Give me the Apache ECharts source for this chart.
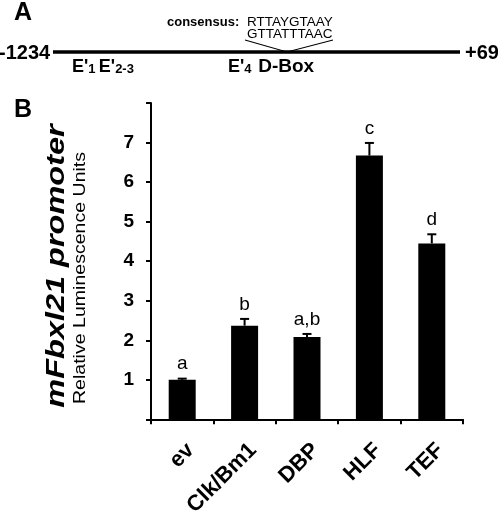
<!DOCTYPE html>
<html>
<head>
<meta charset="utf-8">
<script src="https://cdn.jsdelivr.net/npm/echarts@6/dist/echarts.min.js"></script>
<style>
  html, body { margin: 0; padding: 0; background: #fff; }
  #main { width: 498px; height: 519px; }
</style>
</head>
<body>
<div id="main"></div>
<script>
// 数据
var categories = ['ev', 'Clk/Bm1', 'DBP', 'HLF', 'TEF'];
var values = [1.0, 2.37, 2.08, 6.67, 4.45];
var errors = [0.03, 0.17, 0.08, 0.32, 0.23];
var letters = ['a', 'b', 'a,b', 'c', 'd'];
var yTicks = [1, 2, 3, 4, 5, 6, 7];

var chart = echarts.init(document.getElementById('main'));

// 误差线数据
var errData = [];
for (var i = 0; i < values.length; i++) {
    errData.push([i, values[i], errors[i], letters[i]]);
}

var font = 'Arial, "Liberation Sans", sans-serif';
var subRich = {
    b: { font: 'bold 18px ' + font, fill: '#000' },
    d: { font: 'bold 19px ' + font, fill: '#000' },
    s: { font: 'bold 13px ' + font, fill: '#000', padding: [5, 0, 0, 0] }
};

var option = {
    animation: false,
    backgroundColor: '#fff',
    grid: { left: 151, right: 35, top: 103, bottom: 96 },
    xAxis: {
        type: 'category',
        data: categories,
        axisLine: { lineStyle: { color: '#000', width: 2 } },
        axisTick: { show: true, length: 5, lineStyle: { color: '#000', width: 2 } },
        axisLabel: {
            rotate: 45, margin: 19, color: '#000',
            verticalAlign: 'top', padding: [1, 0, 0, 0],
            fontFamily: font, fontWeight: 'bold', fontSize: 22
        }
    },
    yAxis: {
        type: 'value',
        min: 0, max: 8, interval: 1,
        splitLine: { show: false },
        axisLine: { show: true, lineStyle: { color: '#000', width: 2 } },
        axisTick: { show: true, length: 5, lineStyle: { color: '#000', width: 2 } },
        axisLabel: {
            margin: 17, color: '#000',
            fontFamily: font, fontWeight: 'bold', fontSize: 19,
            formatter: function (v) { return yTicks.indexOf(v) >= 0 ? v : ''; }
        }
    },
    series: [
        {
            type: 'bar',
            data: values,
            barWidth: 27,
            itemStyle: { color: '#000' }
        },
        {
            type: 'custom',
            data: errData,
            z: 3,
            renderItem: function (params, api) {
                var x = api.value(0);
                var base = api.coord([x, api.value(1)]);
                var top = api.coord([x, api.value(1) + api.value(2)]);
                return {
                    type: 'group',
                    children: [
                        { type: 'line', shape: { x1: base[0], y1: base[1], x2: top[0], y2: top[1] },
                          style: { stroke: '#000', lineWidth: 2 } },
                        { type: 'line', shape: { x1: top[0] - 4.5, y1: top[1], x2: top[0] + 4.5, y2: top[1] },
                          style: { stroke: '#000', lineWidth: 2 } },
                        { type: 'text', x: top[0], y: top[1] - 5,
                          style: { text: api.value(3), fill: '#000', font: '19px ' + font,
                                   textAlign: 'center', textVerticalAlign: 'bottom' } }
                    ]
                };
            }
        }
    ],
    graphic: [
        { type: 'text', left: 14, top: 1, style: { text: 'A', font: 'bold 25px ' + font, fill: '#000' } },
        { type: 'text', left: 14, top: 98, style: { text: 'B', font: 'bold 25px ' + font, fill: '#000' } },
        // 启动子示意线
        { type: 'line', shape: { x1: 53, y1: 52, x2: 460, y2: 52 }, style: { stroke: '#000', lineWidth: 3.5 } },
        { type: 'polyline', shape: { points: [[245, 40], [287, 52], [333, 40]] }, style: { stroke: '#000', lineWidth: 1.2, fill: null } },
        { type: 'text', x: -1, y: 53, style: { text: '-1234', font: 'bold 20px ' + font, fill: '#000', textVerticalAlign: 'middle' } },
        { type: 'text', x: 465, y: 53, style: { text: '+69', font: 'bold 20px ' + font, fill: '#000', textVerticalAlign: 'middle' } },
        { type: 'text', x: 72, y: 67, style: {
            text: "{b|E'}{s|1} {b|E'}{s|2-3}", fill: '#000', textVerticalAlign: 'middle', rich: subRich
        } },
        { type: 'text', x: 228, y: 67, style: {
            text: "{b|E'}{s|4}  {d|D-Box}", fill: '#000', textVerticalAlign: 'middle', rich: subRich
        } },
        { type: 'text', x: 167, y: 22, style: { text: 'consensus:', font: 'bold 13px ' + font, fill: '#000', textVerticalAlign: 'middle' } },
        { type: 'text', x: 247, y: 22, style: { text: 'RTTAYGTAAY', font: '13.5px ' + font, fill: '#000', textVerticalAlign: 'middle' } },
        { type: 'text', x: 247, y: 34, style: { text: 'GTTATTTAAC', font: '13.5px ' + font, fill: '#000', textVerticalAlign: 'middle' } },
        // 纵轴标题
        { type: 'text', x: 57, y: 266, rotation: Math.PI / 2, scaleX: 1.3, style: {
            text: 'mFbxl21 promoter', font: 'italic bold 25px ' + font, fill: '#000',
            textAlign: 'center', textVerticalAlign: 'middle' } },
        { type: 'text', x: 80, y: 278, rotation: Math.PI / 2, scaleX: 1.15, style: {
            text: 'Relative Luminescence Units', font: '17px ' + font, fill: '#000',
            textAlign: 'center', textVerticalAlign: 'middle' } }
    ]
};
chart.setOption(option);
</script>
</body>
</html>
